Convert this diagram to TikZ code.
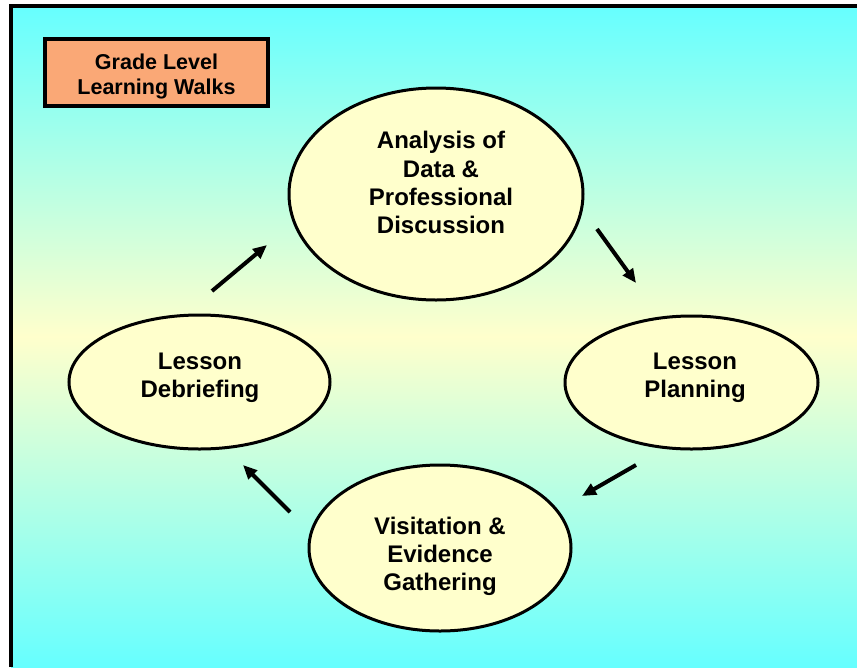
\documentclass[tikz,border=0pt]{standalone}
\usepackage{fontspec}
\setmainfont{Liberation Sans}
\usetikzlibrary{shapes.geometric,arrows.meta}
\definecolor{cyanbg}{RGB}{102,255,255}
\definecolor{yellowbg}{RGB}{255,255,204}
\definecolor{ellfill}{RGB}{255,255,204}
\definecolor{boxfill}{RGB}{250,168,118}
\begin{document}
\begin{tikzpicture}[x=1pt,y=-1pt,
  bubble/.style={ellipse, draw=black, line width=3pt, fill=ellfill, inner sep=0pt},
  btext/.style={align=center, font=\fontsize{24}{28.3}\selectfont\bfseries, inner sep=0pt},
  titlebox/.style={rectangle, draw=black, line width=3.5pt, fill=boxfill, inner sep=0pt},
  ttext/.style={align=center, font=\fontsize{21.5}{25}\selectfont\bfseries, inner sep=0pt},
  flow/.style={line width=4pt, -{Triangle[length=14pt,width=12pt]}}]
\useasboundingbox (0,0) rectangle (857,667);
\fill[white] (0,0) rectangle (857,667);
\shade[top color=cyanbg, bottom color=cyanbg, middle color=yellowbg] (11,6) rectangle (857,667);
\draw[line width=4pt] (11,667) -- (11,6) -- (857,6);

\node[titlebox, minimum width=223pt, minimum height=67pt] (box) at (156.5,72.5) {};
\node[ttext] (boxtext) at (156.5,77.3) {\strut Grade Level\\\strut Learning Walks};

\node[bubble, minimum width=294pt, minimum height=212pt] (analysis) at (436,194) {};
\node[bubble, minimum width=261pt, minimum height=134pt] (debrief) at (199.5,382) {};
\node[bubble, minimum width=253pt, minimum height=133pt] (planning) at (691.5,382.5) {};
\node[bubble, minimum width=262pt, minimum height=166pt] (visit) at (440,548) {};

\node[btext] (analysistext) at (441,185.5) {\strut Analysis of\\\strut Data \&\\\strut Professional\\\strut Discussion};
\node[btext] (debrieftext) at (200,378) {\strut Lesson\\\strut Debriefing};
\node[btext] (planningtext) at (695,377.5) {\strut Lesson\\\strut Planning};
\node[btext] (visittext) at (440,557) {\strut Visitation \&\\\strut Evidence\\\strut Gathering};

\coordinate (a1s) at (212,291); \coordinate (a1e) at (267,245);
\coordinate (a2s) at (597,229); \coordinate (a2e) at (636,283);
\coordinate (a3s) at (636,465); \coordinate (a3e) at (582,496);
\coordinate (a4s) at (290,512); \coordinate (a4e) at (243,465);
\draw[flow] (a1s) -- (a1e);
\draw[flow] (a2s) -- (a2e);
\draw[flow] (a3s) -- (a3e);
\draw[flow] (a4s) -- (a4e);
\end{tikzpicture}
\end{document}
